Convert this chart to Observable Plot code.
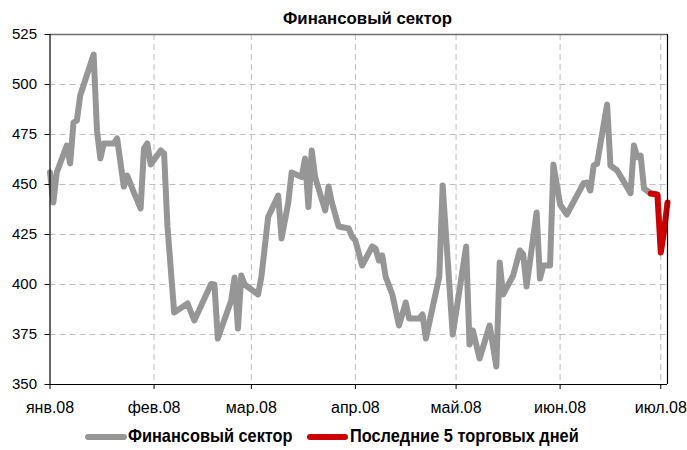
<!DOCTYPE html>
<html><head><meta charset="utf-8">
<script src="https://cdn.jsdelivr.net/npm/d3@7"></script>
<script src="https://cdn.jsdelivr.net/npm/@observablehq/plot@0.6"></script>
<style>
body{margin:0;background:#fff;width:687px;height:450px;overflow:hidden;font-family:"Liberation Sans",Arial,sans-serif;color:#000}
#title{position:relative;height:28px}
#title span{position:absolute;left:283px;top:9px;font-weight:bold;font-size:16.8px;line-height:20px;white-space:nowrap}
#chart svg{overflow:visible;display:block}
#legend{position:relative;height:30px}
#legend .sw{position:absolute;top:14px;height:6px;border-radius:3px}
#legend .tx{position:absolute;top:3px;font-weight:bold;font-size:19px;line-height:26px;white-space:nowrap;transform:scaleX(0.86);transform-origin:0 50%}
</style></head><body>
<div id="title"><span></span></div>
<div id="chart"></div>
<div id="legend"></div>
<script>
// ---- data ----
const title = "Финансовый сектор";
const seriesName = "Финансовый сектор";
const lastName = "Последние 5 торговых дней";
const dates = ["2008-01-01","2008-01-02","2008-01-03","2008-01-06","2008-01-07","2008-01-08","2008-01-09","2008-01-10","2008-01-14","2008-01-15","2008-01-16","2008-01-17","2008-01-20","2008-01-21","2008-01-23","2008-01-24","2008-01-26","2008-01-28","2008-01-29","2008-01-30","2008-01-31",
"2008-02-03","2008-02-04","2008-02-05","2008-02-07","2008-02-11","2008-02-13","2008-02-18","2008-02-19","2008-02-20","2008-02-24","2008-02-25","2008-02-26","2008-02-27","2008-02-28",
"2008-03-03","2008-03-04","2008-03-06","2008-03-09","2008-03-10","2008-03-12","2008-03-13","2008-03-16","2008-03-17","2008-03-18","2008-03-19","2008-03-20","2008-03-23","2008-03-24","2008-03-25","2008-03-27","2008-03-30","2008-03-31",
"2008-04-01","2008-04-03","2008-04-06","2008-04-07","2008-04-08","2008-04-09","2008-04-10","2008-04-12","2008-04-14","2008-04-16","2008-04-17","2008-04-20","2008-04-21","2008-04-22","2008-04-26","2008-04-27","2008-04-30",
"2008-05-04","2008-05-05","2008-05-06","2008-05-08","2008-05-11","2008-05-13","2008-05-14","2008-05-15","2008-05-18","2008-05-20","2008-05-21","2008-05-22","2008-05-25","2008-05-26","2008-05-27","2008-05-29","2008-05-30",
"2008-06-01","2008-06-03","2008-06-08","2008-06-09","2008-06-10","2008-06-11","2008-06-12","2008-06-15","2008-06-16","2008-06-18","2008-06-22","2008-06-23","2008-06-24","2008-06-25","2008-06-26","2008-06-28"];
const values = [456,441,456,469.5,460.5,481,482,494.5,515,477,463,470.5,470.5,473,449,454.5,446,438,468,470.5,460,
467,465.5,429,386,390.5,382,400.3,400,373,392,403.5,378,404.5,400,
395,404,433.7,444.5,423,441,456,453.7,463,438.7,467,453.7,437,449,441,429,428,424,
422,409.5,419,418,412,414.5,404,395,379.5,391,383,383,385,373,404,449.5,375,
419,370,377,363,379.5,359,411,395,404.5,417,415,399,436,403,409.5,409.5,460,
440,435,450.7,451,447,459.5,460.3,490,459.5,457,445.7,469.5,463.7,464.5,448,445.5];
const lastDates = ["2008-06-28","2008-06-30","2008-07-01","2008-07-02","2008-07-03"];
const lastValues = [445.5,445,416,427,441];
const tickDates = ["2008-01-01","2008-02-01","2008-03-01","2008-04-01","2008-05-01","2008-06-01","2008-07-01"];
const tickLabels = ["янв.08","фев.08","мар.08","апр.08","май.08","июн.08","июл.08"];
const yTicks = [350,375,400,425,450,475,500,525];
const xDomain = ["2008-01-01","2008-07-03"];

// ---- build ----
document.querySelector("#title span").textContent = title;
const parse = d3.utcParse("%Y-%m-%d");
const main = dates.map((d,i)=>({date:parse(d), value:values[i]}));
const last = lastDates.map((d,i)=>({date:parse(d), value:lastValues[i]}));
const ticks = tickDates.map(parse);
const labelOf = new Map(ticks.map((d,i)=>[+d, tickLabels[i]]));
const dom = xDomain.map(parse);
const gray = "#969696", red = "#cc0000";

const chart = Plot.plot({
  width: 687, height: 392,
  marginLeft: 49.5, marginRight: 20, marginTop: 6, marginBottom: 36,
  style: {fontFamily:'"Liberation Sans", Arial, sans-serif', fontSize:"15px", color:"#000", background:"#fff"},
  x: {type:"utc", domain: dom},
  y: {domain:[350,525]},
  marks: [
    Plot.ruleY(yTicks.slice(1,-1), {stroke:"#bdbdbd", strokeWidth:1, strokeDasharray:"6,4"}),
    Plot.ruleX(ticks.slice(1), {stroke:"#bdbdbd", strokeWidth:1, strokeDasharray:"6,4"}),
    Plot.line(main, {x:"date", y:"value", stroke:gray, strokeWidth:6, strokeLinejoin:"round"}),
    Plot.line(last, {x:"date", y:"value", stroke:red, strokeWidth:6, strokeLinejoin:"round"}),
    Plot.ruleY([525], {stroke:"#6e6e6e", strokeWidth:1.5}),
    Plot.ruleX([dom[1]], {stroke:"#000", strokeWidth:1.2}),
    Plot.ruleX([dom[0]], {stroke:"#000", strokeWidth:1.2}),
    Plot.ruleY([350], {stroke:"#000", strokeWidth:1.2}),
    Plot.axisY(yTicks, {tickSize:5, tickPadding:8, fontSize:15, stroke:"#000", label:null}),
    Plot.axisX(ticks, {tickSize:5, tickPadding:12, fontSize:16, tickFormat:d=>labelOf.get(+d), stroke:"#000", label:null})
  ]
});
document.getElementById("chart").appendChild(chart);

const lg = document.getElementById("legend");
lg.innerHTML =
  `<div class="sw" style="left:85px;width:42px;background:${gray}"></div>`+
  `<div class="tx" style="left:128px">${seriesName}</div>`+
  `<div class="sw" style="left:307px;width:41px;background:${red}"></div>`+
  `<div class="tx" style="left:350px">${lastName}</div>`;
</script>
</body></html>
